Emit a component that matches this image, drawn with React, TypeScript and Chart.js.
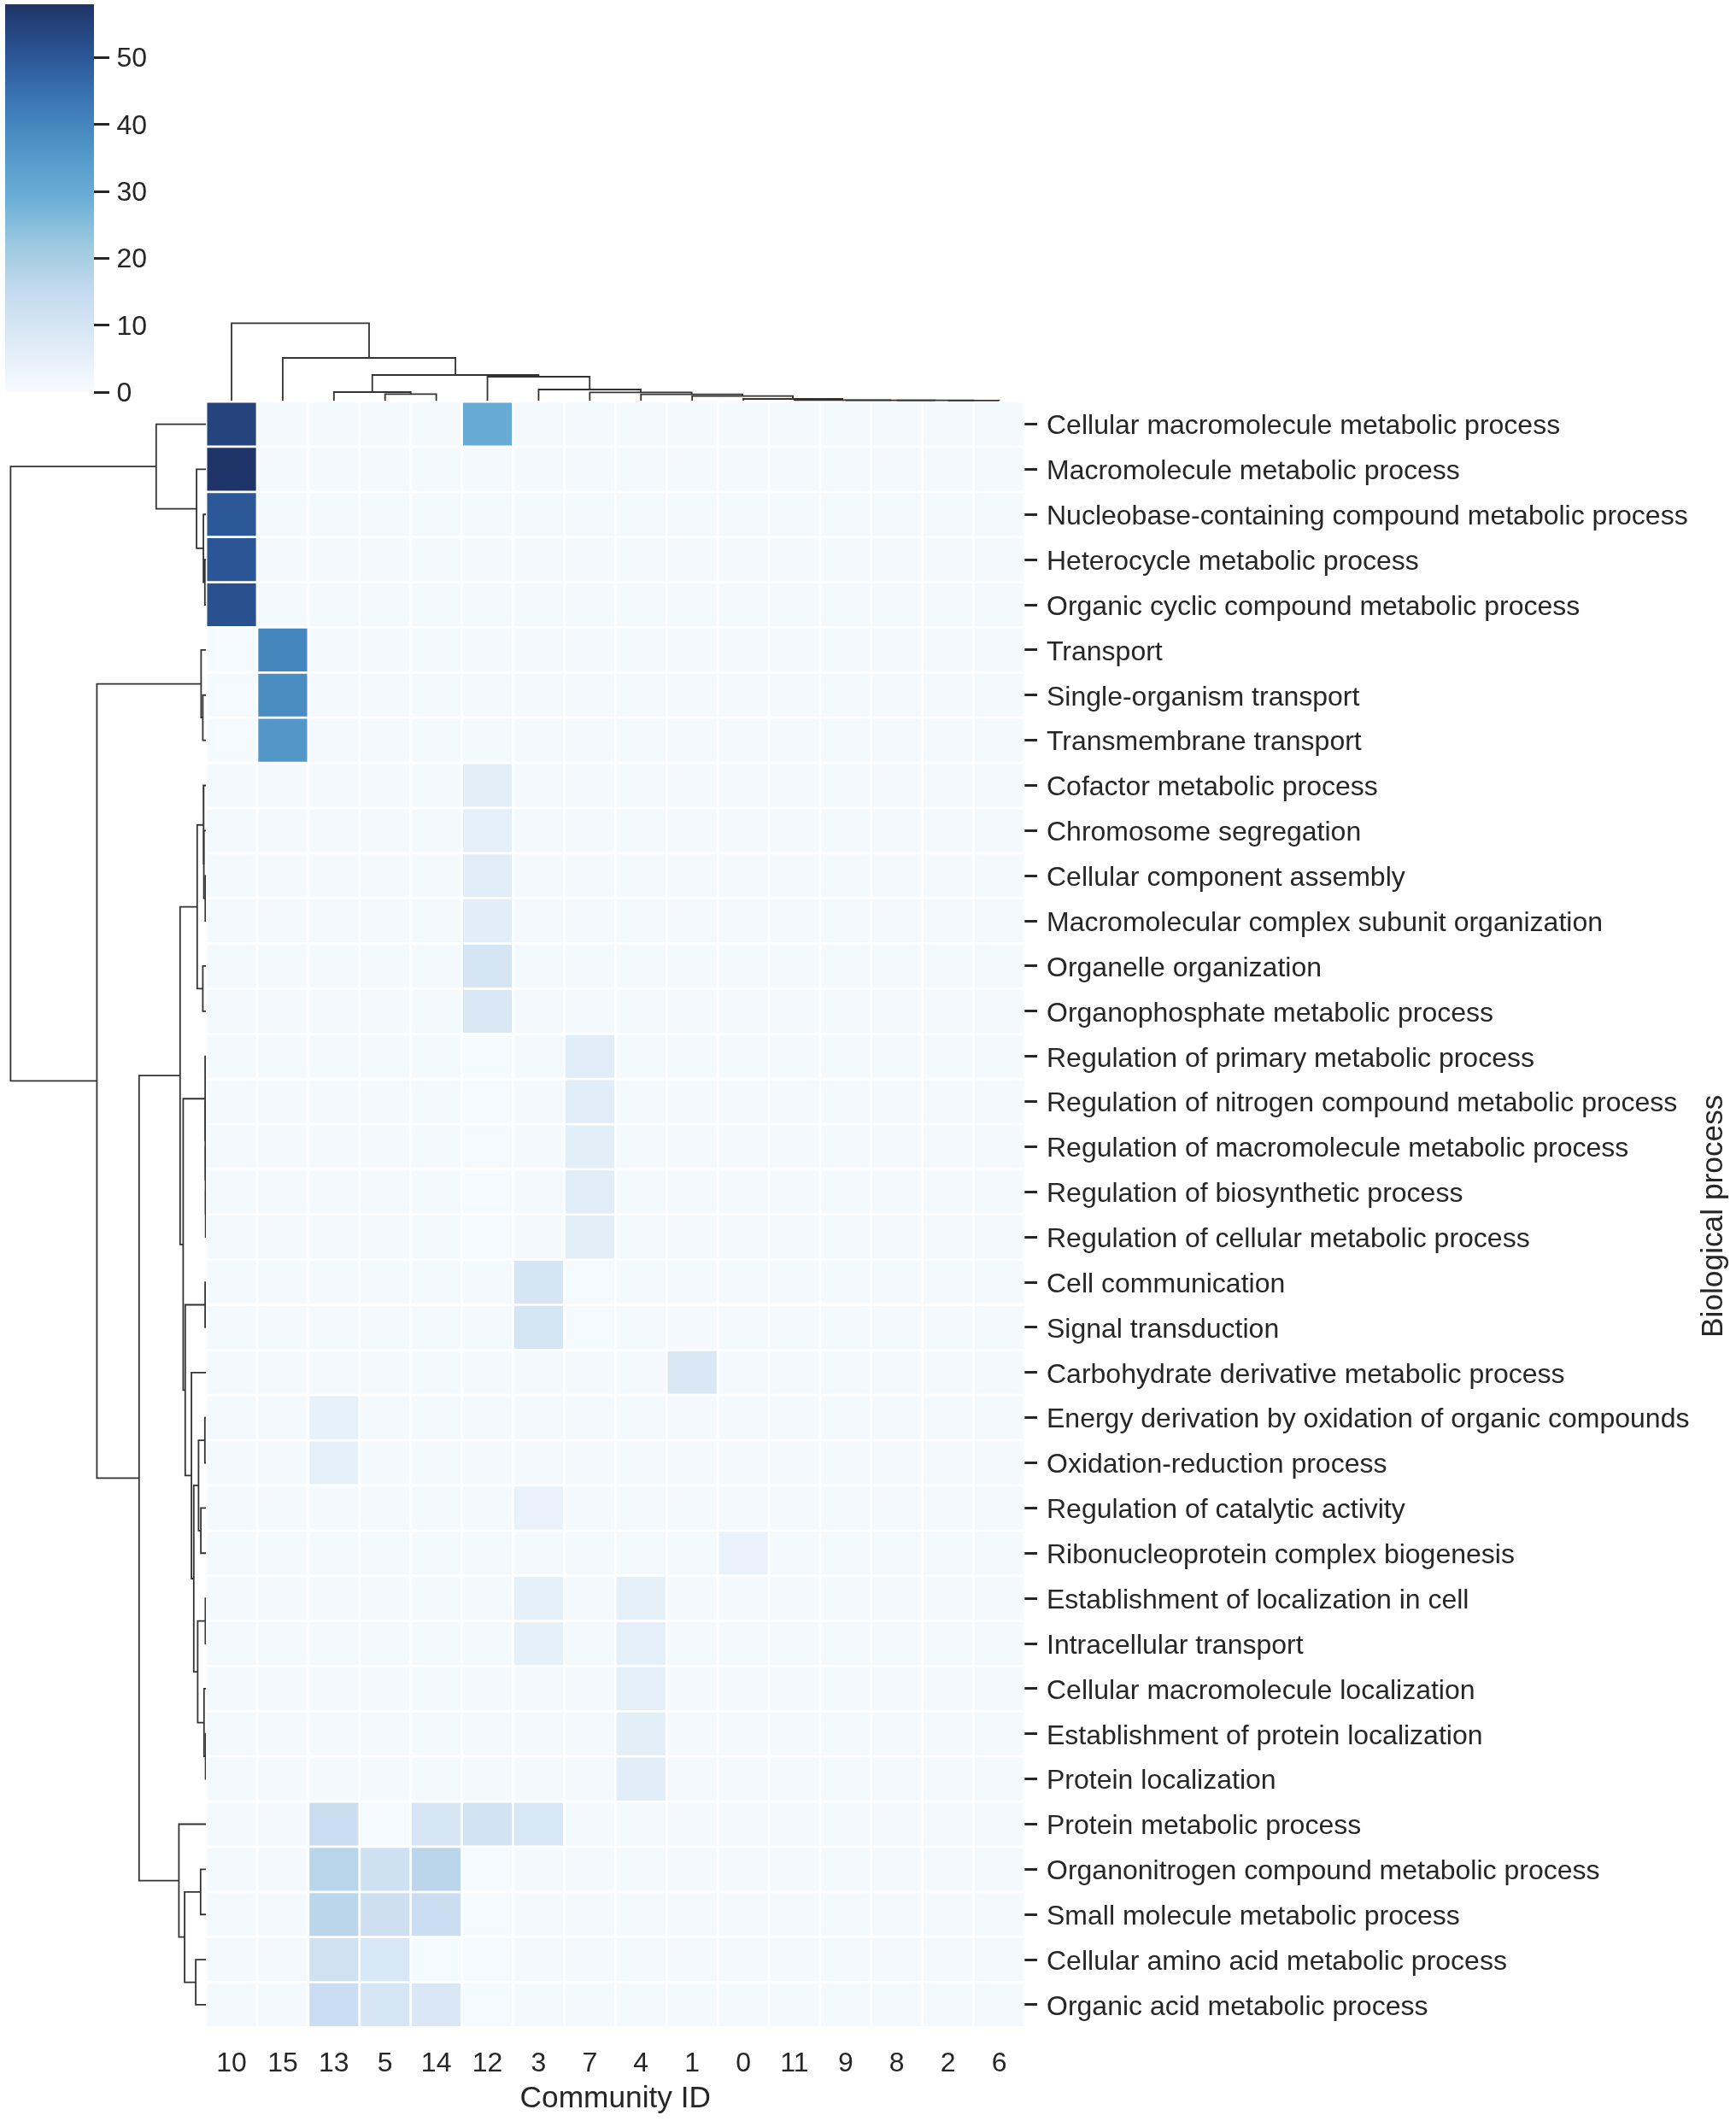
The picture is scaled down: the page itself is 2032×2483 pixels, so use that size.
import React, { useEffect, useRef } from 'react';
import { Chart, registerables } from 'chart.js';

Chart.register(...registerables);

// ---------------- data ----------------
const communityIds = ['10', '15', '13', '5', '14', '12', '3', '7', '4', '1', '0', '11', '9', '8', '2', '6'];

const processes = [
  'Cellular macromolecule metabolic process',
  'Macromolecule metabolic process',
  'Nucleobase-containing compound metabolic process',
  'Heterocycle metabolic process',
  'Organic cyclic compound metabolic process',
  'Transport',
  'Single-organism transport',
  'Transmembrane transport',
  'Cofactor metabolic process',
  'Chromosome segregation',
  'Cellular component assembly',
  'Macromolecular complex subunit organization',
  'Organelle organization',
  'Organophosphate metabolic process',
  'Regulation of primary metabolic process',
  'Regulation of nitrogen compound metabolic process',
  'Regulation of macromolecule metabolic process',
  'Regulation of biosynthetic process',
  'Regulation of cellular metabolic process',
  'Cell communication',
  'Signal transduction',
  'Carbohydrate derivative metabolic process',
  'Energy derivation by oxidation of organic compounds',
  'Oxidation-reduction process',
  'Regulation of catalytic activity',
  'Ribonucleoprotein complex biogenesis',
  'Establishment of localization in cell',
  'Intracellular transport',
  'Cellular macromolecule localization',
  'Establishment of protein localization',
  'Protein localization',
  'Protein metabolic process',
  'Organonitrogen compound metabolic process',
  'Small molecule metabolic process',
  'Cellular amino acid metabolic process',
  'Organic acid metabolic process',
];

// one row per biological process, one value per community (same order as communityIds)
const counts: number[][] = [
  [54.5, 1, 1, 1, 1, 30, 1, 1, 1, 1, 1, 1, 1, 1, 1, 1],
  [58, 1, 1, 1, 1, 1, 1, 1, 1, 1, 1, 1, 1, 1, 1, 1],
  [50, 1, 1, 1, 1, 1, 1, 1, 1, 1, 1, 1, 1, 1, 1, 1],
  [50.5, 1, 1, 1, 1, 1, 1, 1, 1, 1, 1, 1, 1, 1, 1, 1],
  [51.5, 1, 1, 1, 1, 1, 1, 1, 1, 1, 1, 1, 1, 1, 1, 1],
  [0.5, 40, 1, 1, 1, 1, 1, 1, 1, 1, 1, 1, 1, 1, 1, 1],
  [0.5, 38.5, 1, 1, 1, 1, 1, 1, 1, 1, 1, 1, 1, 1, 1, 1],
  [0.5, 36, 1, 1, 1, 1, 1, 1, 1, 1, 1, 1, 1, 1, 1, 1],
  [1, 1, 1, 1, 1, 6, 1, 1, 1, 1, 1, 1, 1, 1, 1, 1],
  [1, 1, 1, 1, 1, 5.5, 1, 1, 1, 1, 1, 1, 1, 1, 1, 1],
  [1, 1, 1, 1, 1, 6.5, 1, 1, 1, 1, 1, 1, 1, 1, 1, 1],
  [1, 1, 1, 1, 1, 6.5, 1, 1, 1, 1, 1, 1, 1, 1, 1, 1],
  [1, 1, 1, 1, 1, 10, 1, 1, 1, 1, 1, 1, 1, 1, 1, 1],
  [1, 1, 1, 1, 1, 8.5, 1, 1, 1, 1, 1, 1, 1, 1, 1, 1],
  [1, 1, 1, 1, 1, 0.5, 1, 6.5, 1, 1, 1, 1, 1, 1, 1, 1],
  [1, 1, 1, 1, 1, 0.5, 1, 6.5, 1, 1, 1, 1, 1, 1, 1, 1],
  [1, 1, 1, 1, 1, 0.5, 1, 6, 1, 1, 1, 1, 1, 1, 1, 1],
  [1, 1, 1, 1, 1, 0.5, 1, 6.5, 1, 1, 1, 1, 1, 1, 1, 1],
  [1, 1, 1, 1, 1, 0.5, 1, 6, 1, 1, 1, 1, 1, 1, 1, 1],
  [1, 1, 1, 1, 1, 1, 10, 0.5, 1, 1, 1, 1, 1, 1, 1, 1],
  [1, 1, 1, 1, 1, 1, 10.5, 0.5, 1, 1, 1, 1, 1, 1, 1, 1],
  [1, 1, 1, 1, 1, 1, 1, 1, 1, 8.5, 1, 1, 1, 1, 1, 1],
  [1, 1, 4.5, 1, 1, 1, 1, 1, 1, 1, 1, 1, 1, 1, 1, 1],
  [1, 1, 5, 1, 1, 1, 1, 1, 1, 1, 1, 1, 1, 1, 1, 1],
  [1, 1, 1, 1, 1, 1, 4, 1, 1, 1, 1, 1, 1, 1, 1, 1],
  [1, 1, 1, 1, 1, 1, 1, 1, 1, 1, 4, 1, 1, 1, 1, 1],
  [1, 1, 1, 1, 1, 1, 5, 1, 5, 1, 1, 1, 1, 1, 1, 1],
  [1, 1, 1, 1, 1, 1, 5, 1, 5.5, 1, 1, 1, 1, 1, 1, 1],
  [1, 1, 1, 1, 1, 1, 1, 1, 5.5, 1, 1, 1, 1, 1, 1, 1],
  [1, 1, 1, 1, 1, 1, 1, 1, 6, 1, 1, 1, 1, 1, 1, 1],
  [1, 1, 1, 1, 1, 1, 1, 1, 6.5, 1, 1, 1, 1, 1, 1, 1],
  [1, 1, 13, 0.5, 9.5, 11, 9, 1, 1, 1, 1, 1, 1, 1, 1, 1],
  [1, 1, 17, 12, 16.5, 0.5, 1, 1, 1, 1, 1, 1, 1, 1, 1, 1],
  [1, 1, 16.5, 12.5, 13, 0.5, 1, 1, 1, 1, 1, 1, 1, 1, 1, 1],
  [1, 1, 11.5, 9, 0.5, 0.5, 1, 1, 1, 1, 1, 1, 1, 1, 1, 1],
  [1, 1, 13, 9.5, 8.5, 0.5, 1, 1, 1, 1, 1, 1, 1, 1, 1, 1],
];

const colorbarTicks = [0, 10, 20, 30, 40, 50];
const colorMax = 58;

// linkage (scipy style): [nodeA, nodeB, distance]; leaves = display positions, merges numbered after leaves
const columnLinkage: [number, number, number][] = [
  [3, 4, 7.7],
  [2, 16, 10],
  [14, 15, 0.2],
  [13, 18, 0.3],
  [12, 19, 0.4],
  [11, 20, 0.7],
  [10, 21, 2],
  [9, 22, 5.3],
  [8, 23, 7.3],
  [7, 24, 9.7],
  [6, 25, 13],
  [5, 26, 28],
  [17, 27, 30],
  [1, 28, 50],
  [0, 29, 90.7],
];

const rowLinkage: [number, number, number][] = [
  [3, 4, 1.3],
  [2, 36, 3],
  [1, 37, 11],
  [0, 38, 58.3],
  [6, 7, 3.7],
  [5, 40, 5.7],
  [10, 11, 0.8],
  [9, 42, 2.5],
  [8, 43, 3],
  [12, 13, 3.7],
  [44, 45, 10.3],
  [17, 18, 0.4],
  [16, 47, 0.6],
  [15, 48, 0.8],
  [14, 49, 1.0],
  [19, 20, 1.0],
  [22, 23, 1.3],
  [24, 25, 6],
  [52, 53, 8.7],
  [26, 27, 0.7],
  [29, 30, 0.5],
  [28, 56, 2.3],
  [55, 57, 9.7],
  [54, 58, 14.3],
  [21, 59, 17],
  [51, 60, 24.3],
  [50, 61, 26.7],
  [46, 62, 30.3],
  [32, 33, 6.3],
  [34, 35, 12],
  [64, 65, 25],
  [31, 66, 31.7],
  [63, 67, 78.3],
  [41, 68, 127.7],
  [39, 69, 228.7],
];

const xTitle = 'Community ID';
const yTitle = 'Biological process';

// ---------------- style ----------------
const FONT = "'Liberation Sans', Arial, Helvetica, sans-serif";
const TEXT = '#262626';
const TREE = '#333333';
const TICK_SIZE = 32;
const TITLE_SIZE = 35.3;

const BLUES: [number, string][] = [
  [0, '#f7fbff'],
  [0.125, '#deebf7'],
  [0.25, '#c6dbef'],
  [0.375, '#9ecae1'],
  [0.5, '#6baed6'],
  [0.625, '#5196c8'],
  [0.75, '#3b77b4'],
  [0.875, '#2b5494'],
  [1, '#1f3468'],
];

function hexRgb(h: string): number[] {
  const n = parseInt(h.slice(1), 16);
  return [(n >> 16) & 255, (n >> 8) & 255, n & 255];
}

function colorFor(v: number): string {
  const t = Math.max(0, Math.min(1, v / colorMax));
  for (let i = 1; i < BLUES.length; i++) {
    const [t1, c1] = BLUES[i];
    const [t0, c0] = BLUES[i - 1];
    if (t <= t1) {
      const f = (t - t0) / (t1 - t0);
      const a = hexRgb(c0);
      const b = hexRgb(c1);
      const r = a.map((x, k) => Math.round(x + (b[k] - x) * f));
      return `rgb(${r[0]},${r[1]},${r[2]})`;
    }
  }
  return BLUES[BLUES.length - 1][1];
}

function linkShapes(n: number, linkage: [number, number, number][]) {
  const pos: number[] = [];
  const hgt: number[] = [];
  for (let i = 0; i < n; i++) {
    pos.push(i + 0.5);
    hgt.push(0);
  }
  const shapes: { p: number; h: number }[][] = [];
  linkage.forEach(([a, b, h]) => {
    shapes.push([
      { p: pos[a], h: hgt[a] },
      { p: pos[a], h },
      { p: pos[b], h },
      { p: pos[b], h: hgt[b] },
    ]);
    pos.push((pos[a] + pos[b]) / 2);
    hgt.push(h);
  });
  return shapes;
}

// layout (page px)
const HM_LEFT = 241.1;
const HM_TOP = 470.1;
const HM_W = 958.4;
const HM_H = 1903.3;

const HEAT_CANVAS = { left: 231, top: 430, width: 1801, height: 2053 };
const TOP_CANVAS = { left: 231, top: 360, width: 980, height: 112 };
const LEFT_CANVAS = { left: 0, top: 430, width: 250, height: 2053 };
const CB_CANVAS = { left: 0, top: 0, width: 260, height: 490 };

const noPad = (s: any) => {
  s.paddingTop = 0;
  s.paddingBottom = 0;
  s.paddingLeft = 0;
  s.paddingRight = 0;
};

const sideTitle = {
  id: 'sideTitle',
  afterDraw(chart: any) {
    const { ctx, chartArea } = chart;
    ctx.save();
    ctx.translate(2006 - HEAT_CANVAS.left, (chartArea.top + chartArea.bottom) / 2 + 2);
    ctx.rotate(-Math.PI / 2);
    ctx.font = `${TITLE_SIZE}px ${FONT}`;
    ctx.fillStyle = TEXT;
    ctx.textAlign = 'center';
    ctx.textBaseline = 'middle';
    ctx.fillText(yTitle, 0, 0);
    ctx.restore();
  },
};

export default function App() {
  const cbRef = useRef<HTMLCanvasElement>(null);
  const topRef = useRef<HTMLCanvasElement>(null);
  const leftRef = useRef<HTMLCanvasElement>(null);
  const heatRef = useRef<HTMLCanvasElement>(null);

  useEffect(() => {
    document.body.style.margin = '0';
    Chart.defaults.font.family = FONT;
    Chart.defaults.color = TEXT;
    const charts: Chart[] = [];

    // ---- colorbar ----
    charts.push(
      new Chart(cbRef.current!, {
        type: 'bar',
        data: {
          labels: [''],
          datasets: [
            {
              data: [[0, colorMax]] as any,
              backgroundColor: (c: any) => {
                const chart = c.chart;
                if (!chart.chartArea) return BLUES[0][1];
                const y = chart.scales.y;
                const g = chart.ctx.createLinearGradient(0, y.getPixelForValue(0), 0, y.getPixelForValue(colorMax));
                BLUES.forEach(([t, col]) => g.addColorStop(t, col));
                return g;
              },
              borderWidth: 0,
              barPercentage: 1,
              categoryPercentage: 1,
              inflateAmount: 0,
            } as any,
          ],
        },
        options: {
          responsive: false,
          animation: false,
          events: [],
          layout: { padding: { left: 6, top: 5, bottom: 31, right: 0 } },
          plugins: { legend: { display: false }, tooltip: { enabled: false } },
          scales: {
            x: { display: false },
            y: {
              position: 'right',
              min: 0,
              max: colorMax,
              grid: { drawOnChartArea: false, tickLength: 18, tickWidth: 3, tickColor: TEXT },
              border: { display: false },
              ticks: { padding: 8.5, labelOffset: 2, color: TEXT, font: { family: FONT, size: TICK_SIZE } },
              afterBuildTicks: (s: any) => {
                s.ticks = colorbarTicks.map((v) => ({ value: v }));
              },
              afterFit: (s: any) => {
                s.width = CB_CANVAS.width - 110;
                noPad(s);
              },
            },
          },
        } as any,
      })
    );

    // ---- top (column) dendrogram ----
    const colShapes = linkShapes(communityIds.length, columnLinkage);
    const colHmax = Math.max(...columnLinkage.map((l) => l[2]));
    charts.push(
      new Chart(topRef.current!, {
        type: 'scatter',
        data: {
          datasets: colShapes.map((s) => ({
            data: s.map((q) => ({ x: q.p, y: q.h })),
            showLine: true,
            borderColor: TREE,
            borderWidth: 1.8,
            pointRadius: 0,
            fill: false,
            clip: false,
          })) as any,
        },
        options: {
          responsive: false,
          animation: false,
          events: [],
          layout: {
            padding: {
              left: HM_LEFT - TOP_CANVAS.left,
              right: TOP_CANVAS.width - (HM_LEFT - TOP_CANVAS.left) - HM_W,
              bottom: TOP_CANVAS.top + TOP_CANVAS.height - 469,
              top: TOP_CANVAS.height - (TOP_CANVAS.top + TOP_CANVAS.height - 469) - colHmax * 1.05,
            },
          },
          plugins: { legend: { display: false }, tooltip: { enabled: false } },
          scales: {
            x: { type: 'linear', min: 0, max: communityIds.length, display: false },
            y: { type: 'linear', min: 0, max: colHmax * 1.05, display: false },
          },
        } as any,
      })
    );

    // ---- left (row) dendrogram ----
    const rowShapes = linkShapes(processes.length, rowLinkage);
    const rowHmax = Math.max(...rowLinkage.map((l) => l[2]));
    const leftPadRight = LEFT_CANVAS.width - HM_LEFT;
    charts.push(
      new Chart(leftRef.current!, {
        type: 'scatter',
        data: {
          datasets: rowShapes.map((s) => ({
            data: s.map((q) => ({ x: q.h, y: q.p })),
            showLine: true,
            borderColor: TREE,
            borderWidth: 1.8,
            pointRadius: 0,
            fill: false,
            clip: false,
          })) as any,
        },
        options: {
          responsive: false,
          animation: false,
          events: [],
          layout: {
            padding: {
              top: HM_TOP - LEFT_CANVAS.top,
              bottom: LEFT_CANVAS.height - (HM_TOP - LEFT_CANVAS.top) - HM_H,
              right: leftPadRight,
              left: LEFT_CANVAS.width - leftPadRight - rowHmax * 1.05,
            },
          },
          plugins: { legend: { display: false }, tooltip: { enabled: false } },
          scales: {
            x: { type: 'linear', min: 0, max: rowHmax * 1.05, reverse: true, display: false },
            y: { type: 'linear', min: 0, max: processes.length, reverse: true, display: false },
          },
        } as any,
      })
    );

    // ---- heatmap ----
    const padTop = HM_TOP - HEAT_CANVAS.top;
    const padLeft = HM_LEFT - HEAT_CANVAS.left;
    charts.push(
      new Chart(heatRef.current!, {
        type: 'bar',
        data: {
          labels: communityIds,
          datasets: processes.map((name, r) => ({
            label: name,
            data: communityIds.map(() => [r, r + 1]),
            backgroundColor: counts[r].map((v) => colorFor(v)),
            borderColor: '#ffffff',
            borderWidth: 1.7,
            borderSkipped: false,
            grouped: false,
            barPercentage: 1,
            categoryPercentage: 1,
            xAxisID: 'x',
            yAxisID: 'y',
          })) as any,
        },
        options: {
          responsive: false,
          animation: false,
          events: [],
          layout: { padding: { top: padTop, left: padLeft, right: 0, bottom: 0 } },
          plugins: { legend: { display: false }, tooltip: { enabled: false } },
          scales: {
            x: {
              type: 'category',
              position: 'bottom',
              grid: { display: false, drawTicks: false },
              border: { display: false },
              ticks: {
                padding: 24,
                color: TEXT,
                font: { family: FONT, size: TICK_SIZE },
                maxRotation: 0,
                autoSkip: false,
              },
              title: {
                display: true,
                text: xTitle,
                color: TEXT,
                font: { family: FONT, size: TITLE_SIZE },
                padding: { top: 0, bottom: 4.3 },
              },
              afterFit: (s: any) => {
                s.height = HEAT_CANVAS.height - padTop - HM_H;
                noPad(s);
              },
            },
            y: { type: 'linear', min: 0, max: processes.length, reverse: true, display: false },
            y2: {
              type: 'category',
              labels: processes,
              position: 'right',
              offset: true,
              grid: {
                display: true,
                drawOnChartArea: false,
                drawTicks: true,
                tickLength: 14.5,
                tickWidth: 3,
                tickColor: TEXT,
                offset: false,
              },
              border: { display: false },
              ticks: {
                padding: 11,
                labelOffset: 3,
                color: TEXT,
                font: { family: FONT, size: TICK_SIZE },
                autoSkip: false,
              },
              afterFit: (s: any) => {
                s.width = HEAT_CANVAS.width - padLeft - HM_W;
                noPad(s);
              },
            },
          },
        } as any,
        plugins: [sideTitle as any],
      })
    );

    return () => charts.forEach((c) => c.destroy());
  }, []);

  const abs = (c: { left: number; top: number; width: number; height: number }) => ({
    position: 'absolute' as const,
    left: c.left,
    top: c.top,
    width: c.width,
    height: c.height,
  });

  return (
    <div style={{ position: 'relative', width: 2032, height: 2483, background: '#ffffff', overflow: 'hidden' }}>
      <canvas ref={leftRef} width={LEFT_CANVAS.width} height={LEFT_CANVAS.height} style={abs(LEFT_CANVAS)} />
      <canvas ref={topRef} width={TOP_CANVAS.width} height={TOP_CANVAS.height} style={abs(TOP_CANVAS)} />
      <canvas ref={heatRef} width={HEAT_CANVAS.width} height={HEAT_CANVAS.height} style={abs(HEAT_CANVAS)} />
      <canvas ref={cbRef} width={CB_CANVAS.width} height={CB_CANVAS.height} style={abs(CB_CANVAS)} />
    </div>
  );
}
